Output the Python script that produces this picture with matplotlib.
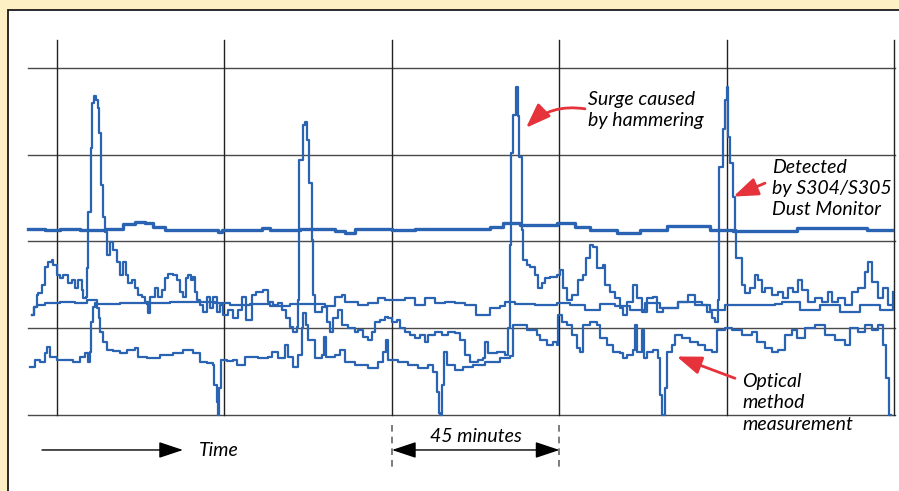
import matplotlib.pyplot as plt
from matplotlib.patches import Rectangle

# time in minutes, concentration in grid divisions (bottom line = 0)
monitor_t = [-6.8, -6.2, -5.5, -5.0, -4.1, -3.2, -2.3, -1.4, -1.0, -0.1,
             0.8, 1.7, 3.0, 4.0, 4.8, 5.7, 6.6, 7.1, 7.8, 8.1,
             8.4, 9.1, 9.5, 9.9, 10.5, 11.1, 11.3, 11.7, 12.3, 12.9,
             13.5, 14.2, 15.1, 16.0, 16.9, 17.8, 18.5, 19.2, 20.1, 21.0,
             21.8, 22.8, 23.6, 25.0, 26.3, 27.2, 28.1, 29.0, 29.9, 31.2,
             32.2, 33.0, 33.9, 34.7, 35.3, 35.9, 36.5, 37.1, 37.5, 38.4,
             39.3, 40.2, 41.1, 42.0, 42.9, 43.8, 44.7, 46.0, 47.4, 48.7,
             49.6, 50.8, 52.3, 53.5, 55.3, 56.7, 58.0, 59.4, 60.5, 61.5,
             62.6, 63.4, 64.4, 64.8, 65.1, 66.0, 66.6, 67.1, 67.6, 68.4,
             68.8, 69.3, 70.1, 71.1, 72.5, 73.3, 74.2, 75.6, 76.5, 78.3,
             80.1, 81.0, 82.3, 83.6, 84.6, 85.4, 86.8, 88.1, 89.0, 89.9,
             91.3, 92.2, 93.5, 94.8, 96.2, 97.5, 98.9, 99.8, 101.6, 103.4,
             105.1, 106.9, 108.3, 109.6, 111.0, 113.1, 114.5, 115.0, 115.8, 118.2,
             120.4, 121.3, 121.6, 122.0, 122.6, 123.2, 123.9, 124.2, 124.9, 125.3,
             126.2, 127.1, 128.4, 129.2, 130.2, 131.1, 132.5, 134.3, 135.1, 135.9,
             137.0, 138.4, 140.0, 141.3, 142.1, 143.2, 144.0, 145.1, 146.7, 147.2,
             148.6, 149.9, 151.3, 152.1, 153.1, 154.8, 155.8, 157.2, 158.5, 160.1,
             161.2, 162.8, 164.7, 166.8, 168.7, 169.5, 171.4, 173.3, 174.6, 176.0,
             176.8, 177.6, 177.9, 179.0, 179.5, 180.0, 180.4, 180.8, 181.5, 182.2,
             182.4, 184.0, 184.8, 186.2, 187.5, 188.3, 189.3, 190.2, 192.0, 193.7,
             195.1, 196.4, 197.7, 199.1, 200.1, 201.8, 203.6, 205.4, 207.1, 208.1,
             209.8, 211.7, 213.5, 215.2, 217.1, 217.9, 218.9, 220.6, 221.9, 223.3, 224.6]
monitor_v = [1.15, 1.24, 1.38, 1.41, 1.50, 1.71, 1.76, 1.79, 1.73, 1.61,
             1.58, 1.61, 1.52, 1.56, 1.46, 1.56, 1.44, 1.35, 1.36, 1.69,
             2.34, 3.08, 3.60, 3.68, 3.63, 3.54, 3.25, 2.65, 2.28, 2.11,
             1.84, 1.99, 1.90, 1.76, 1.61, 1.76, 1.61, 1.52, 1.56, 1.46,
             1.38, 1.36, 1.30, 1.36, 1.46, 1.36, 1.44, 1.58, 1.63, 1.61,
             1.56, 1.42, 1.36, 1.58, 1.61, 1.56, 1.59, 1.42, 1.33, 1.27,
             1.19, 1.36, 1.23, 1.36, 1.19, 1.27, 1.15, 1.21, 1.12, 1.21,
             1.36, 1.10, 1.38, 1.42, 1.44, 1.30, 1.27, 1.29, 1.21, 1.12,
             1.01, 0.96, 1.01, 1.33, 2.94, 3.34, 3.38, 3.17, 2.67, 2.02,
             1.38, 1.19, 1.19, 1.24, 1.07, 0.96, 1.12, 1.21, 1.04, 1.00,
             0.96, 0.98, 0.90, 0.86, 0.96, 1.07, 1.10, 1.13, 1.12, 1.07,
             1.10, 1.00, 0.96, 0.92, 0.89, 0.92, 0.84, 0.92, 0.96, 0.92,
             0.96, 0.95, 0.86, 0.69, 0.61, 0.63, 0.66, 0.84, 0.71, 0.73,
             0.69, 1.00, 1.96, 3.02, 3.46, 3.78, 3.44, 2.97, 2.13, 1.79,
             1.73, 1.71, 1.61, 1.46, 1.52, 1.58, 1.59, 1.61, 1.67, 1.46,
             1.33, 1.38, 1.56, 1.61, 1.81, 1.96, 1.93, 1.69, 1.73, 1.50,
             1.42, 1.35, 1.23, 1.15, 1.30, 1.50, 1.35, 1.19, 1.35, 1.36,
             1.19, 1.23, 1.23, 1.30, 1.30, 1.38, 1.30, 1.27, 1.19, 1.12,
             1.07, 1.33, 2.86, 3.29, 3.63, 3.78, 3.20, 2.90, 2.51, 2.13,
             1.81, 1.50, 1.41, 1.46, 1.61, 1.56, 1.42, 1.46, 1.38, 1.42,
             1.35, 1.46, 1.42, 1.56, 1.44, 1.30, 1.35, 1.30, 1.42, 1.30,
             1.35, 1.27, 1.42, 1.46, 1.65, 1.76, 1.53, 1.35, 1.46, 1.27, 1.42]

middle_t = [-6.8, -6.2, -5.5, -3.2, 0.8, 4.8, 8.1, 10.7, 16.9, 24.1,
            24.4, 25.0, 30.4, 37.5, 42.4, 46.5, 51.9, 57.2, 62.6, 68.0,
            72.0, 74.7, 76.5, 77.4, 80.9, 83.6, 86.3, 88.1, 90.8, 93.5,
            96.2, 98.9, 101.6, 104.2, 106.9, 109.6, 112.6, 115.3, 116.3, 119.0,
            120.4, 123.0, 128.4, 134.3, 137.8, 141.9, 145.9, 149.9, 153.9, 158.0,
            162.0, 166.8, 171.4, 175.4, 179.5, 192.9, 194.8, 199.6, 205.0, 210.4,
            215.7, 221.1, 224.6]
middle_v = [1.15, 1.24, 1.27, 1.29, 1.30, 1.29, 1.33, 1.28, 1.29, 1.28,
            1.18, 1.29, 1.30, 1.30, 1.29, 1.27, 1.28, 1.26, 1.28, 1.28,
            1.26, 1.36, 1.38, 1.30, 1.27, 1.29, 1.35, 1.33, 1.33, 1.35,
            1.27, 1.35, 1.29, 1.30, 1.29, 1.27, 1.15, 1.15, 1.23, 1.26,
            1.30, 1.28, 1.27, 1.29, 1.27, 1.21, 1.28, 1.26, 1.21, 1.29,
            1.23, 1.30, 1.27, 1.21, 1.27, 1.28, 1.30, 1.21, 1.27, 1.19,
            1.27, 1.21, 1.26]

optical_t = [-7.3, -5.9, -4.6, -3.2, -2.8, -1.9, -0.1, 2.6, 4.4, 6.2,
             7.5, 8.4, 8.9, 9.1, 9.8, 10.2, 10.8, 11.3, 11.6, 12.4,
             13.4, 15.1, 16.9, 18.7, 21.0, 21.8, 24.1, 27.7, 31.2, 33.9,
             36.6, 38.4, 40.2, 42.0, 42.3, 42.9, 43.3, 43.6, 44.0, 45.6,
             47.4, 48.3, 50.5, 54.1, 56.8, 57.7, 59.5, 61.3, 62.1, 63.5,
             64.8, 65.7, 66.2, 66.8, 67.5, 69.3, 71.1, 71.8, 72.2, 74.7,
             76.0, 77.4, 80.1, 83.6, 86.3, 87.7, 88.3, 88.8, 91.7, 94.4,
             97.1, 99.8, 101.1, 102.0, 102.6, 103.0, 103.4, 104.1, 104.7, 106.9,
             109.2, 111.8, 115.0, 119.0, 121.7, 122.5, 124.4, 126.3, 129.0, 129.8,
             131.6, 133.3, 134.3, 134.6, 135.7, 137.0, 138.4, 139.7, 140.5, 141.3,
             143.2, 145.1, 145.9, 147.8, 149.4, 151.3, 152.1, 153.1, 154.7, 155.3,
             155.8, 157.2, 157.7, 158.5, 160.1, 161.5, 162.0, 162.5, 163.1, 163.3,
             163.9, 165.2, 166.0, 167.9, 170.1, 172.2, 174.1, 176.0, 177.3, 179.5,
             181.3, 184.0, 186.7, 188.1, 190.2, 192.1, 193.7, 195.6, 197.5, 198.8,
             201.0, 203.6, 206.3, 209.0, 211.7, 213.0, 215.2, 217.1, 219.0, 220.6,
             221.9, 222.7, 223.5, 224.1]
optical_v = [0.55, 0.63, 0.61, 0.71, 0.78, 0.67, 0.63, 0.63, 0.61, 0.67,
             0.71, 0.61, 0.73, 1.07, 1.24, 1.29, 1.23, 1.12, 0.96, 0.84,
             0.75, 0.74, 0.71, 0.75, 0.77, 0.67, 0.66, 0.69, 0.71, 0.75,
             0.71, 0.61, 0.60, 0.58, 0.35, 0.15, 0.00, 0.31, 0.63, 0.62,
             0.63, 0.58, 0.67, 0.66, 0.67, 0.73, 0.66, 0.81, 0.67, 0.55,
             0.69, 1.00, 1.18, 1.04, 0.86, 0.66, 0.69, 0.90, 0.67, 0.69,
             0.75, 0.61, 0.58, 0.54, 0.61, 0.73, 0.86, 0.63, 0.61, 0.58,
             0.54, 0.58, 0.50, 0.27, 0.02, 0.00, 0.35, 0.73, 0.58, 0.52,
             0.55, 0.58, 0.61, 0.66, 0.68, 1.04, 1.04, 0.98, 0.92, 0.86,
             0.81, 0.84, 0.81, 1.15, 1.07, 1.04, 0.92, 0.77, 0.73, 1.04,
             1.07, 1.04, 0.89, 0.81, 0.73, 0.71, 0.66, 0.69, 0.75, 1.04,
             0.73, 0.98, 0.66, 0.73, 0.75, 0.66, 0.23, 0.00, 0.00, 0.31,
             0.73, 0.81, 0.92, 0.89, 0.84, 0.81, 0.75, 0.73, 0.98, 1.00,
             0.98, 0.92, 0.96, 0.84, 0.77, 0.73, 0.75, 0.92, 0.98, 0.89,
             1.00, 1.04, 0.92, 0.86, 0.81, 1.00, 0.96, 1.04, 0.98, 1.04,
             0.81, 0.43, 0.00, 0.00]

baseline_t = [-7.8, -3.2, 0.8, 6.2, 12.9, 17.7, 21.0, 23.6, 25.8, 29.0,
              42.4, 43.3, 44.3, 55.1, 57.2, 65.3, 74.7, 77.4, 80.1, 90.0,
              96.2, 108.3, 116.3, 119.8, 124.4, 134.3, 139.2, 143.2, 150.4, 153.1,
              156.6, 163.9, 174.6, 175.4, 181.6, 198.8, 217.6, 224.3]
baseline_v = [2.14, 2.13, 2.14, 2.13, 2.14, 2.20, 2.22, 2.21, 2.17, 2.13,
              2.13, 2.11, 2.13, 2.16, 2.13, 2.14, 2.12, 2.10, 2.14, 2.13,
              2.14, 2.14, 2.17, 2.21, 2.19, 2.21, 2.17, 2.13, 2.10, 2.10,
              2.13, 2.18, 2.18, 2.13, 2.12, 2.16, 2.13, 2.13]

grid_y = [0, 1, 2, 3, 4]
grid_t = [0, 45, 90, 135, 180, 225]

blue = "#2b63b3"
red = "#e5323b"

plt.rcParams["font.family"] = ["Lato", "DejaVu Sans"]

fig = plt.figure(figsize=(8.99, 4.91), dpi=100, facecolor="#fdf0c5")
fig.patches.append(Rectangle((7.5 / 899, -0.1), 1.0, 0.1 + (491 - 9.5) / 491,
                             transform=fig.transFigure, facecolor="white",
                             edgecolor="#1a1a1a", lw=1.3, zorder=-1))

ax = fig.add_axes([28 / 899, 76 / 491, 867 / 899, 375 / 491])
ax.set_xlim(-7.79, 225.14)
ax.set_ylim(0, 4.32)
ax.axis("off")

for y in grid_y:
    ax.axhline(y, color="#4a4a4a", lw=1.0, clip_on=False, zorder=1)
for t in grid_t:
    ax.axvline(t, color="#222222", lw=1.0, clip_on=False, zorder=1)

ax.plot(baseline_t, baseline_v, drawstyle="steps-post", color=blue, lw=2.4, zorder=3, clip_on=False)
ax.plot(middle_t, middle_v, drawstyle="steps-post", color=blue, lw=1.6, zorder=3, clip_on=False)
ax.plot(optical_t, optical_v, drawstyle="steps-post", color=blue, lw=1.6, zorder=3, clip_on=False)
ax.plot(monitor_t, monitor_v, drawstyle="steps-post", color=blue, lw=1.6, zorder=3, clip_on=False)

label = dict(fontsize=14, style="italic", color="black", va="baseline", clip_on=False)

# red callouts
ax.text(142.66, 3.573, "Surge caused", **label)
ax.text(142.66, 3.331, "by hammering", **label)
ax.annotate("", xy=(126.0, 3.308), xytext=(141.85, 3.527),
            arrowprops=dict(arrowstyle="-|>,head_length=1.5,head_width=0.55", color=red,
                            lw=2, connectionstyle="arc3,rad=0.25", shrinkA=0, shrinkB=0,
                            mutation_scale=10))

ax.text(192.09, 2.790, "Detected", **label)
ax.text(192.09, 2.548, "by S304/S305", **label)
ax.text(192.09, 2.305, "Dust Monitor", **label)
ax.annotate("", xy=(181.71, 2.516), xytext=(190.21, 2.671),
            arrowprops=dict(arrowstyle="-|>,head_length=1.5,head_width=0.55", color=red,
                            lw=2, shrinkA=0, shrinkB=0, mutation_scale=10))

ax.text(184.03, 0.323, "Optical", **label)
ax.text(184.03, 0.081, "method", **label)
ax.text(184.03, -0.173, "measurement", **label)
ax.annotate("", xy=(166.49, 0.674), xytext=(182.15, 0.423),
            arrowprops=dict(arrowstyle="-|>,head_length=1.5,head_width=0.55", color=red,
                            lw=2, shrinkA=0, shrinkB=0, mutation_scale=10))

# time arrow and 45 minute bracket below the grid
ax.annotate("", xy=(33.85, -0.403), xytext=(-4.03, -0.403), annotation_clip=False,
            arrowprops=dict(arrowstyle="-|>,head_length=1.5,head_width=0.5", color="black",
                            lw=1.0, shrinkA=0, shrinkB=0, mutation_scale=10))
ax.text(38.15, -0.473, "Time", **label)

for t in [90, 135]:
    ax.plot([t, t], [-0.115, -0.611], color="#666666", lw=1.2, ls=(0, (4, 3)), clip_on=False)
ax.annotate("", xy=(135, -0.403), xytext=(90, -0.403), annotation_clip=False,
            arrowprops=dict(arrowstyle="<|-|>,head_length=1.5,head_width=0.5", color="black",
                            lw=1.0, shrinkA=0, shrinkB=0, mutation_scale=10))
ax.text(112.57, -0.311, "45 minutes", ha="center", **label)

fig.savefig("out.png", dpi=100, facecolor=fig.get_facecolor())
